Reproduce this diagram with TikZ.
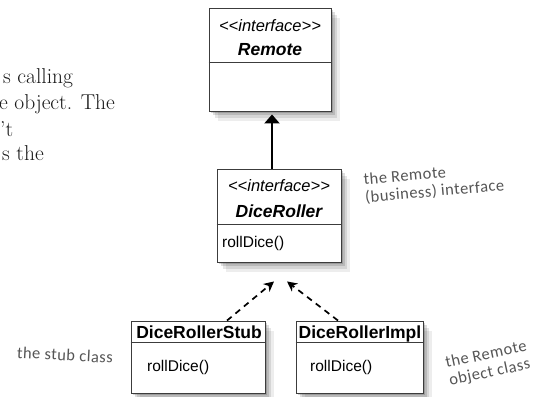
\documentclass[tikz,border=0pt]{standalone}
\usepackage{fontspec}
\setsansfont{Liberation Sans}
\newfontfamily\notefont[LetterSpace=3]{Carlito}
\usepackage{tikz}
\usetikzlibrary{positioning, arrows.meta, shadows, calc}
\definecolor{noteGray}{RGB}{85,85,85}
\definecolor{boxLine}{RGB}{60,60,60}
\tikzstyle{classbox} = [draw=boxLine, line width=0.9pt, fill=white, inner sep=0pt,
  general shadow={fill=black, opacity=0.16, shadow xshift=2pt, shadow yshift=-2pt},
  general shadow={fill=black, opacity=0.13, shadow xshift=4pt, shadow yshift=-4pt},
  general shadow={fill=black, opacity=0.10, shadow xshift=6pt, shadow yshift=-7pt},
  general shadow={fill=black, opacity=0.07, shadow xshift=9pt, shadow yshift=-10pt}]
\tikzstyle{stereo}  = [font=\sffamily\itshape\fontsize{16.5}{18}\selectfont, anchor=base, inner sep=0pt]
\tikzstyle{clsname} = [font=\sffamily\bfseries\itshape\fontsize{17.5}{19}\selectfont, anchor=base, inner sep=0pt]
\tikzstyle{clsplain}= [font=\sffamily\bfseries\fontsize{17.5}{19}\selectfont, anchor=base, inner sep=0pt]
\tikzstyle{method}  = [font=\sffamily\fontsize{15.5}{17}\selectfont, anchor=base west, inner sep=0pt]
\tikzstyle{note}    = [font=\notefont\fontsize{16.5}{18}\selectfont, text=noteGray, align=left, inner sep=0pt]
\tikzstyle{body}    = [font=\fontsize{21.5}{24}\selectfont, text=black!90, anchor=base west, inner sep=0pt]
\tikzstyle{extend}  = [line width=2.2pt, -{Triangle[length=9pt, width=15pt]}]
\tikzstyle{realize} = [line width=1.7pt, dash pattern=on 6pt off 5pt, -{Stealth[length=10pt, width=10pt, inset=3pt]}]

\begin{document}
\begin{tikzpicture}[x=1pt, y=-1pt]
\useasboundingbox (0,0) rectangle (534,396);
% body text cut at the page edge
\node[body] (line1) at (3,83) {s calling};
\node[body] (line2) at (-1,109) {e object. The};
\node[body] (line3) at (0,136) {’t};
\node[body] (line4) at (2,160) {s the};
% class boxes
\node[classbox, minimum width=122pt, minimum height=103pt] (remote) at (270,59.5) {};
\node[classbox, minimum width=124pt, minimum height=93pt] (diceroller) at (279,215.5) {};
\node[classbox, minimum width=134pt, minimum height=72pt] (stub) at (198,357) {};
\node[classbox, minimum width=127pt, minimum height=72pt] (impl) at (359.5,357) {};
% compartments
\draw[boxLine, line width=0.9pt] (remote.west |- 0,62) -- (remote.east |- 0,62);
\draw[boxLine, line width=0.9pt] (diceroller.west |- 0,224) -- (diceroller.east |- 0,224);
\draw[boxLine, line width=0.9pt] (stub.west |- 0,342) -- (stub.east |- 0,342);
\draw[boxLine, line width=0.9pt] (impl.west |- 0,342) -- (impl.east |- 0,342);
% box texts
\node[stereo] (remotest) at (270,31) {<{}<interface>{}>};
\node[clsname] (remotenm) at (270,56) {Remote};
\node[stereo] (drst) at (279,191) {<{}<interface>{}>};
\node[clsname] (drnm) at (279,217) {DiceRoller};
\node[method] (drop) at (222,247) {rollDice()};
\node[clsplain] (stubnm) at (199,338) {DiceRollerStub};
\node[method] (stubop) at (147,371) {rollDice()};
\node[clsplain] (implnm) at (360,338) {DiceRollerImpl};
\node[method] (implop) at (310,371) {rollDice()};
% connectors
\draw[extend] ([xshift=-7pt]diceroller.north) -- ([xshift=2pt,yshift=-3pt]remote.south);
\draw[realize] ([xshift=29pt]stub.north) -- ([xshift=-5pt,yshift=-19pt]diceroller.south);
\draw[realize] ([xshift=-21.5pt]impl.north) -- ([xshift=8pt,yshift=-19pt]diceroller.south);
% handwritten notes
\node[note, rotate=5] (note1) at (434,183) {the Remote\\(business) interface};
\node[note, rotate=-3] (note2) at (65,355) {the stub class};
\node[note, rotate=12] (note3) at (488,364) {the Remote\\object class};
\end{tikzpicture}
\end{document}
